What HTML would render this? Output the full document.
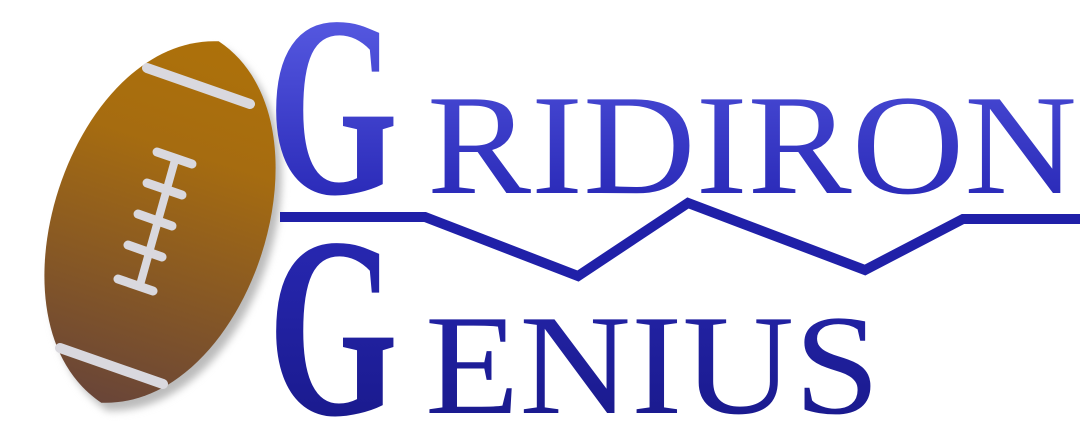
<!DOCTYPE html>
<html><head><meta charset="utf-8"><style>
html,body{margin:0;padding:0;background:#fff;width:1088px;height:445px;overflow:hidden}
svg{display:block}
</style></head><body>
<svg width="1088" height="445" viewBox="0 0 1088 445" xmlns="http://www.w3.org/2000/svg">
<defs>
<linearGradient id="ball" x1="0" y1="0" x2="0" y2="1">
<stop offset="0" stop-color="#ad710a"/><stop offset="0.3" stop-color="#a66c10"/><stop offset="1" stop-color="#694538"/>
</linearGradient>
<linearGradient id="txt" gradientUnits="userSpaceOnUse" x1="0" y1="20" x2="0" y2="420">
<stop offset="0" stop-color="#5558e0"/><stop offset="0.45" stop-color="#2a2ab8"/><stop offset="1" stop-color="#1a1a8e"/>
</linearGradient>
<filter id="sh" x="-20%" y="-20%" width="140%" height="140%"><feGaussianBlur stdDeviation="4"/></filter>
</defs>
<g>
<path transform="translate(166,230) rotate(18)" d="M0,-190 C142,-150 142,150 0,190 C-142,150 -142,-150 0,-190Z" fill="#bbb" filter="url(#sh)"/>
<path transform="translate(160,222) rotate(18)" d="M0,-190 C142,-150 142,150 0,190 C-142,150 -142,-150 0,-190Z" fill="url(#ball)"/>
<g stroke="#d9d8de" stroke-linecap="round" fill="none">
<line x1="147" y1="68" x2="250" y2="104" stroke-width="10"/>
<line x1="60" y1="348" x2="163" y2="384" stroke-width="10"/>
<line x1="175" y1="160" x2="140" y2="285" stroke-width="8"/>
<line x1="157" y1="152" x2="192" y2="164" stroke-width="9"/>
<line x1="147" y1="183" x2="182" y2="195" stroke-width="9"/>
<line x1="138" y1="214" x2="172" y2="226" stroke-width="9"/>
<line x1="128" y1="245" x2="162" y2="257" stroke-width="9"/>
<line x1="118" y1="279" x2="153" y2="291" stroke-width="9"/>
</g>
</g>
<g fill="url(#txt)" font-family="'Liberation Serif', serif">
<text x="268" y="193" font-size="258" font-weight="bold" textLength="130" lengthAdjust="spacingAndGlyphs">G</text>
<text x="427" y="193" font-size="143" textLength="650" lengthAdjust="spacingAndGlyphs">RIDIRON</text>
<text x="268" y="414" font-size="258" font-weight="bold" textLength="130" lengthAdjust="spacingAndGlyphs">G</text>
<text x="425" y="413" font-size="143" textLength="455" lengthAdjust="spacingAndGlyphs">ENIUS</text>
</g>
<polyline points="280,217 425,217 578,276 688,203 865,270 963,219 1080,219" fill="none" stroke="#2020a8" stroke-width="10" stroke-linejoin="miter"/>
</svg>
</body></html>
